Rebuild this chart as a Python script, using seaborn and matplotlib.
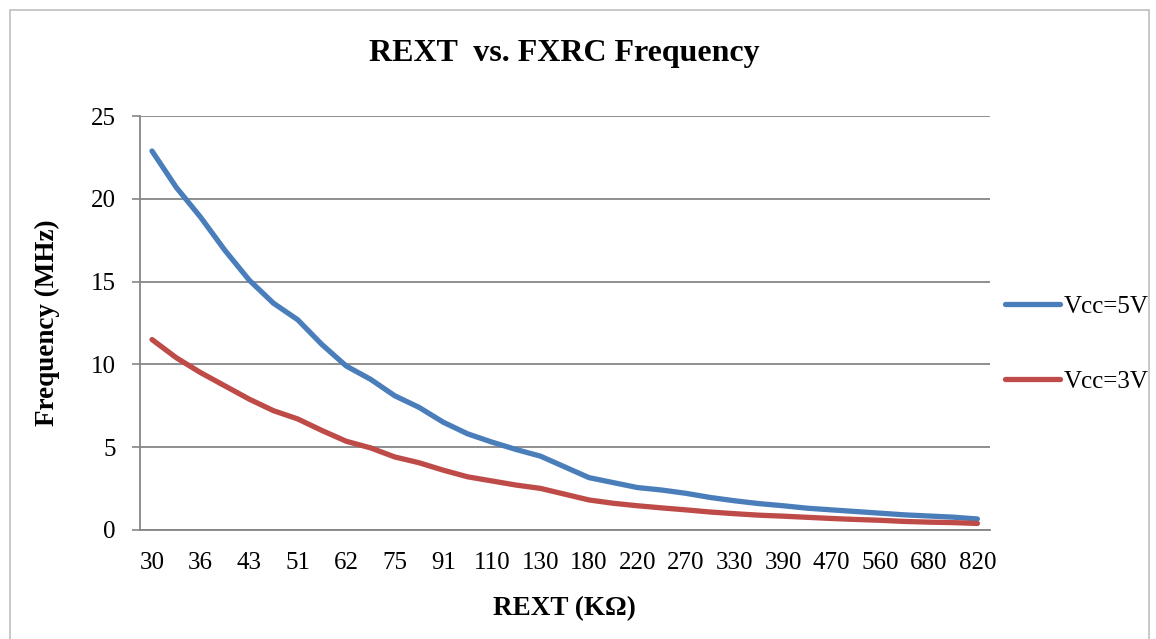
import matplotlib
matplotlib.use("Agg")
import matplotlib.pyplot as plt
import seaborn as sns
import pandas as pd
from matplotlib.patches import Rectangle

rext = ["30", "33", "36", "39", "43", "47", "51", "56", "62", "68", "75", "82", "91",
        "100", "110", "120", "130", "150", "180", "200", "220", "240", "270", "300",
        "330", "360", "390", "430", "470", "510", "560", "620", "680", "750", "820"]
vcc5 = [22.9, 20.7, 18.9, 16.9, 15.1, 13.7, 12.7, 11.2, 9.9, 9.1, 8.1, 7.4, 6.5,
        5.8, 5.3, 4.85, 4.45, 3.8, 3.15, 2.85, 2.55, 2.4, 2.2, 1.95,
        1.75, 1.58, 1.45, 1.3, 1.2, 1.1, 1.0, 0.9, 0.83, 0.76, 0.65]
vcc3 = [11.5, 10.4, 9.5, 8.7, 7.9, 7.2, 6.7, 6.0, 5.35, 4.95, 4.4, 4.05, 3.6,
        3.2, 2.95, 2.7, 2.5, 2.15, 1.8, 1.6, 1.45, 1.32, 1.2, 1.07,
        0.97, 0.88, 0.82, 0.75, 0.68, 0.62, 0.57, 0.5, 0.46, 0.43, 0.38]
series = ["Vcc=5V", "Vcc=3V"]
colors = ["#4A7EBB", "#BE4B48"]
yticks = [0, 5, 10, 15, 20, 25]

sns.set_theme(style="white")
plt.rcParams["font.family"] = ["Liberation Serif", "DejaVu Serif"]
plt.rcParams["text.color"] = "black"
plt.rcParams["axes.labelcolor"] = "black"

df = pd.DataFrame({
    "REXT": rext * 2,
    "Frequency": vcc5 + vcc3,
    "Series": [series[0]] * len(rext) + [series[1]] * len(rext),
})
df["pos"] = list(range(len(rext))) * 2

fig = plt.figure(figsize=(11.56, 6.39), dpi=100)
ax = fig.add_axes([0.121, 0.171, 0.735, 0.647])

sns.lineplot(data=df, x="pos", y="Frequency", hue="Series", palette=colors,
             linewidth=3.8, ax=ax, legend=True, solid_capstyle="round")

ax.set_xlim(-0.5, len(rext) - 0.5)
ax.set_ylim(0, 25)
ax.set_yticks(yticks)
ax.set_yticklabels([str(t) for t in yticks], fontsize=18)
ax.set_xticks(range(0, len(rext), 2))
ax.set_xticklabels(rext[::2], fontsize=18)
ax.tick_params(axis="x", length=0, pad=16, labelcolor="black")
ax.tick_params(axis="y", length=5.5, width=1.2, color="#868686", left=True, pad=12,
               labelcolor="black")

ax.grid(axis="y", color="#868686", linewidth=1.3)
ax.set_axisbelow(True)
for s in ["top", "right"]:
    ax.spines[s].set_visible(False)
for s in ["left", "bottom"]:
    ax.spines[s].set_color("#868686")
    ax.spines[s].set_linewidth(1.3)

ax.set_xlabel("REXT (KΩ)", fontsize=19.5, fontweight="bold", labelpad=16, color="black")
ax.set_ylabel("Frequency (MHz)", fontsize=19.5, fontweight="bold", labelpad=22, color="black")
ax.set_title("REXT  vs. FXRC Frequency", fontsize=23, fontweight="bold", pad=40, color="black")

leg = ax.legend(loc="center left", bbox_to_anchor=(1005 / 1156, 1 - 344 / 639),
                bbox_transform=fig.transFigure, frameon=False,
                fontsize=18, labelspacing=2.1, handlelength=2.2, handletextpad=0.15,
                borderpad=0, borderaxespad=0)
for t in leg.get_texts():
    t.set_color("black")
for h in leg.get_lines():
    h.set_linewidth(3.8)

fig.patches.append(Rectangle((0.009, -0.05), 0.985, 1.035, transform=fig.transFigure,
                             fill=False, edgecolor="#BFBFBF", linewidth=1.2))

fig.savefig("out.png", dpi=100)
